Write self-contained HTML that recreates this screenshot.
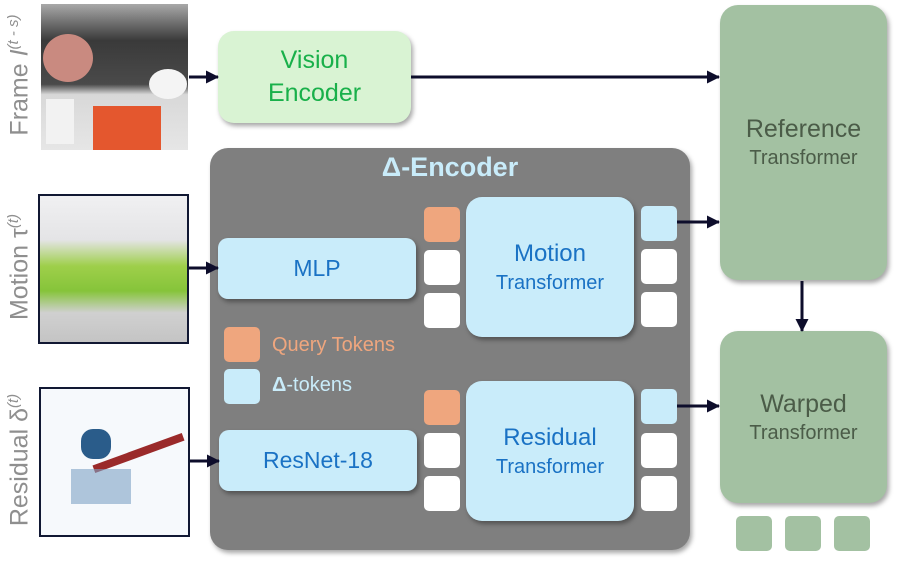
<!DOCTYPE html>
<html><head><meta charset="utf-8"><style>
body{margin:0;width:897px;height:568px;background:#fff;position:relative;overflow:hidden;font-family:"Liberation Sans",sans-serif}
.a{position:absolute;box-sizing:border-box}
.sh{box-shadow:2px 3px 5px rgba(0,0,0,.35)}
.c{display:flex;flex-direction:column;align-items:center;justify-content:center;text-align:center}
.lb{background:#c9ecfa;color:#1a72c4}
.tok{position:absolute;width:36px;height:35px;border-radius:5px}
.w{background:#fff}.o{background:#efa67e}.b{background:#c9ecfa}
.g{background:#a3c1a2;color:#4b5c48}
.rot{position:absolute;transform:rotate(-90deg);transform-origin:center;white-space:nowrap;color:#8f8f8f;font-size:25px;text-align:center}
</style></head><body>
<div class="a" style="left:41px;top:4px;width:147px;height:146px;background:linear-gradient(180deg,#a8a8a8 0%,#3a3a3a 25%,#4a4a4a 55%,#d8d8d8 62%,#e6e6e6 100%)">
 <div class="a" style="left:2px;top:30px;width:50px;height:48px;border-radius:50%;background:#c98a80"></div>
 <div class="a" style="left:52px;top:102px;width:68px;height:44px;background:#e4572e"></div>
 <div class="a" style="left:5px;top:95px;width:28px;height:45px;background:#f2f2f2"></div>
 <div class="a" style="left:108px;top:65px;width:38px;height:30px;border-radius:50%;background:#f4f4f4"></div>
</div>
<div class="a" style="left:38px;top:194px;width:151px;height:150px;border:2px solid #111833;background:linear-gradient(180deg,#f0f0f2 0%,#e4e4e6 30%,#9ecf4a 48%,#86c43a 65%,#d0d0d0 80%,#c4c4c4 100%)"></div>
<div class="a" style="left:39px;top:387px;width:151px;height:150px;border:2px solid #111833;background:#f6f9fc">
 <div class="a" style="left:40px;top:40px;width:30px;height:30px;background:#2a5c8a;border-radius:40%"></div>
 <div class="a" style="left:50px;top:60px;width:95px;height:8px;background:#9a2a2a;transform:rotate(-20deg)"></div>
 <div class="a" style="left:30px;top:80px;width:60px;height:35px;background:#7fa2c4;opacity:.6"></div>
</div>
<div class="rot" style="left:-60px;top:60px;width:160px;height:30px">Frame <i>I</i><sup style="font-size:15px"><i>(t - s)</i></sup></div>
<div class="rot" style="left:-60px;top:252px;width:160px;height:30px">Motion τ<sup style="font-size:15px"><i>(t)</i></sup></div>
<div class="rot" style="left:-60px;top:445px;width:160px;height:30px">Residual δ<sup style="font-size:15px"><i>(t)</i></sup></div>

<div class="a sh c" style="left:218px;top:31px;width:193px;height:92px;border-radius:16px;background:#d9f3d3;color:#19b04a;font-size:25px;line-height:33px">Vision<br>Encoder</div>

<div class="a sh" style="left:210px;top:148px;width:480px;height:402px;border-radius:18px;background:#7f7f7f"></div>
<div class="a" style="left:210px;top:152px;width:480px;text-align:center;color:#c9ecfa;font-weight:bold;font-size:27px">Δ-Encoder</div>

<div class="a sh c lb" style="left:218px;top:238px;width:198px;height:61px;border-radius:10px;font-size:23px">MLP</div>
<div class="a sh c lb" style="left:219px;top:430px;width:198px;height:61px;border-radius:10px;font-size:23px">ResNet-18</div>
<div class="a sh c lb" style="left:466px;top:197px;width:168px;height:140px;border-radius:16px;font-size:24px">Motion<div style="font-size:20px;margin-top:4px">Transformer</div></div>
<div class="a sh c lb" style="left:466px;top:381px;width:168px;height:140px;border-radius:16px;font-size:24px">Residual<div style="font-size:20px;margin-top:4px">Transformer</div></div>

<div class="tok o" style="left:424px;top:207px"></div>
<div class="tok w" style="left:424px;top:250px"></div>
<div class="tok w" style="left:424px;top:293px"></div>
<div class="tok o" style="left:424px;top:390px"></div>
<div class="tok w" style="left:424px;top:433px"></div>
<div class="tok w" style="left:424px;top:476px"></div>
<div class="tok b" style="left:641px;top:206px"></div>
<div class="tok w" style="left:641px;top:249px"></div>
<div class="tok w" style="left:641px;top:292px"></div>
<div class="tok b" style="left:641px;top:389px"></div>
<div class="tok w" style="left:641px;top:433px"></div>
<div class="tok w" style="left:641px;top:476px"></div>

<div class="tok o" style="left:224px;top:327px"></div>
<div class="tok b" style="left:224px;top:369px"></div>
<div class="a" style="left:272px;top:334px;color:#efa67e;font-size:20px">Query Tokens</div>
<div class="a" style="left:272px;top:374px;color:#c9ecfa;font-size:20px"><b>Δ</b>-tokens</div>

<div class="a sh c g" style="left:720px;top:5px;width:167px;height:275px;border-radius:18px;font-size:25px">Reference<div style="font-size:20px;margin-top:3px">Transformer</div></div>
<div class="a sh c g" style="left:720px;top:331px;width:167px;height:172px;border-radius:18px;font-size:25px">Warped<div style="font-size:20px;margin-top:3px">Transformer</div></div>
<div class="tok g" style="left:736px;top:516px"></div>
<div class="tok g" style="left:785px;top:516px"></div>
<div class="tok g" style="left:834px;top:516px"></div>

<svg class="a" style="left:0;top:0" width="897" height="568">
<defs><marker id="m" markerWidth="13" markerHeight="13" refX="12" refY="6.5" orient="auto" markerUnits="userSpaceOnUse"><path d="M0,0 L13,6.5 L0,13z" fill="#0d0d2b"/></marker></defs>
<g stroke="#0d0d2b" stroke-width="3" fill="none" marker-end="url(#m)">
<line x1="189" y1="77" x2="218" y2="77"/>
<line x1="411" y1="77" x2="719" y2="77"/>
<line x1="189" y1="268" x2="218" y2="268"/>
<line x1="190" y1="461" x2="219" y2="461"/>
<line x1="677" y1="222" x2="719" y2="222"/>
<line x1="677" y1="406" x2="719" y2="406"/>
<line x1="802" y1="281" x2="802" y2="331"/>
</g></svg>
</body></html>
